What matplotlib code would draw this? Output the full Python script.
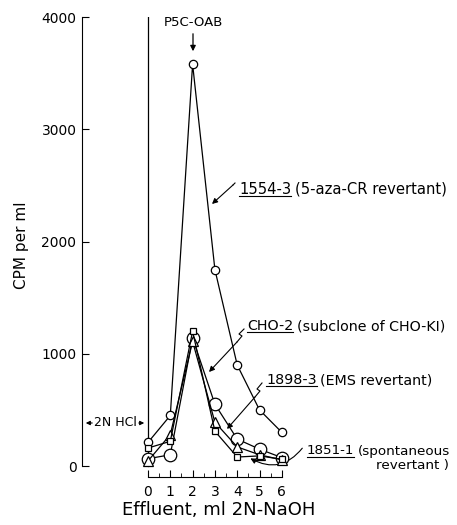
""" Elution profile of P5C-OAB from the column, CPM per ml vs effluent. """

import matplotlib
matplotlib.use('Agg')
import matplotlib.pyplot as plt
from matplotlib.patches import FancyArrowPatch

plt.rcParams['font.family'] = 'DejaVu Sans'

# Data.
effluent_ml = [0, 1, 2, 3, 4, 5, 6]
cpm_1554_3 = [210, 450, 3580, 1750, 900, 500, 300]
cpm_cho_2 = [160, 220, 1200, 310, 80, 90, 60]
cpm_1898_3 = [45, 280, 1110, 390, 170, 100, 55]
cpm_1851_1 = [65, 100, 1140, 550, 240, 150, 75]
y_ticks = [0, 1000, 2000, 3000, 4000]
x_ticks = [0, 1, 2, 3, 4, 5, 6]

# Layout: pixel position of data origin and scale in the 457x525 picture.
X0_PX, X_SCALE = 148, 22.3
Y0_PX, Y_SCALE = 466, 0.11225
W, H = 457, 525
FS = 10.3


def px(xp, yp):
    """ Picture pixel -> data coordinates. """
    return ((xp - X0_PX) / X_SCALE, (Y0_PX - yp) / Y_SCALE)


fig = plt.figure(figsize=(W / 100, H / 100), dpi=100)
left, right = 82, 448
ybot = -150
bottom_px = Y0_PX - ybot * Y_SCALE
ax = fig.add_axes([left / W, 1 - bottom_px / H,
                   (right - left) / W, (bottom_px - 17) / H])
ax.set_xlim(px(left, 0)[0], px(right, 0)[0])
ax.set_ylim(ybot, 4000)

line_kw = dict(color='black', lw=0.9, markerfacecolor='white',
               markeredgecolor='black', markeredgewidth=0.9)
ax.plot(effluent_ml, cpm_1554_3, marker='o', ms=6, **line_kw, zorder=3)
ax.plot(effluent_ml, cpm_1851_1, marker='o', ms=9, **line_kw, zorder=4)
ax.plot(effluent_ml, cpm_1898_3, marker='^', ms=6.5, **line_kw, zorder=5)
ax.plot(effluent_ml, cpm_cho_2, marker='s', ms=5, **line_kw, zorder=6)

# Separator between HCl and NaOH elution.
ax.plot([0, 0], [0, 4000], color='black', lw=0.9, zorder=1)

# Axes styling.
for side in ('top', 'right'):
    ax.spines[side].set_visible(False)
ax.spines['left'].set_bounds(0, 4000)
ax.spines['bottom'].set_position(('data', px(0, 477)[1]))
ax.spines['bottom'].set_bounds(0, 6)
ax.set_yticks(y_ticks)
ax.set_xticks(x_ticks)
ax.set_xticks([0.5 + i for i in range(6)], minor=True)
ax.tick_params(axis='y', direction='in', length=5, labelsize=10, pad=4)
ax.tick_params(axis='x', direction='in', length=5, labelsize=10, pad=6)
ax.tick_params(axis='x', which='minor', direction='in', length=3)

ax.set_xlabel('Effluent, ml 2N-NaOH', fontsize=13)
ax.xaxis.set_label_coords((219 - left) / (right - left),
                          -(510 - bottom_px) / (bottom_px - 17))
ax.xaxis.label.set_va('center')
ax.set_ylabel('CPM per ml', fontsize=11)
ax.yaxis.set_label_coords((22 - left) / (right - left),
                          (bottom_px - 245) / (bottom_px - 17))
ax.yaxis.label.set_va('center')

# Annotations.
ax.text(*px(193, 22), 'P5C-OAB', ha='center', va='center', fontsize=9.5)
ax.annotate('', xy=px(193, 54), xytext=px(193, 31),
            arrowprops=dict(arrowstyle='-|>', color='black', lw=0.9,
                            mutation_scale=8))

ax.text(*px(115, 423), '2N HCl', ha='center', va='center', fontsize=9)
ax.annotate('', xy=px(83, 423), xytext=px(95, 423),
            arrowprops=dict(arrowstyle='-|>', color='black', lw=0.8,
                            mutation_scale=6))
ax.annotate('', xy=px(147, 423), xytext=px(136, 423),
            arrowprops=dict(arrowstyle='-|>', color='black', lw=0.8,
                            mutation_scale=6))


def label(xp, yp, name, rest, fs=FS):
    """ Underlined strain name followed by a description. """
    t = ax.text(*px(xp, yp), name, ha='left', va='center', fontsize=fs)
    fig.canvas.draw()
    bb = t.get_window_extent().transformed(ax.transData.inverted())
    ax.plot([bb.x0, bb.x1], [bb.y0 + 5, bb.y0 + 5], color='black', lw=0.8,
            clip_on=False)
    ax.text(bb.x1 + 0.15, px(0, yp)[1], rest, ha='left', va='center',
            fontsize=fs)


def squiggle_arrow(points, tip):
    """ Zig-zag tail followed by an arrow to the tip. """
    xs, ys = zip(*[px(*p) for p in points])
    ax.plot(xs, ys, color='black', lw=0.8, clip_on=False)
    ax.annotate('', xy=px(*tip), xytext=px(*points[-1]),
                arrowprops=dict(arrowstyle='-|>', color='black', lw=0.8,
                                mutation_scale=8, shrinkA=0, shrinkB=0))


label(239, 189, '1554-3', '(5-aza-CR revertant)', fs=10.6)
squiggle_arrow([(235, 183), (233, 185)], (212, 204))

label(247, 326, 'CHO-2', '(subclone of CHO-KI)')
squiggle_arrow([(244, 329), (239, 334), (242, 336), (237, 342)], (209, 372))

label(266, 380, '1898-3', '(EMS revertant)')
squiggle_arrow([(262, 383), (257, 389), (260, 391), (255, 397)], (227, 429))

label(307, 451, '1851-1', '(spontaneous', fs=9.7)
ax.text(*px(449, 465), 'revertant )', ha='right', va='center', fontsize=9.7)
ax.add_patch(FancyArrowPatch(px(304, 446), px(248, 457),
                             connectionstyle='arc3,rad=-0.45',
                             arrowstyle='-|>', mutation_scale=8,
                             color='black', lw=0.8, clip_on=False))

fig.savefig('out.png', dpi=100)
